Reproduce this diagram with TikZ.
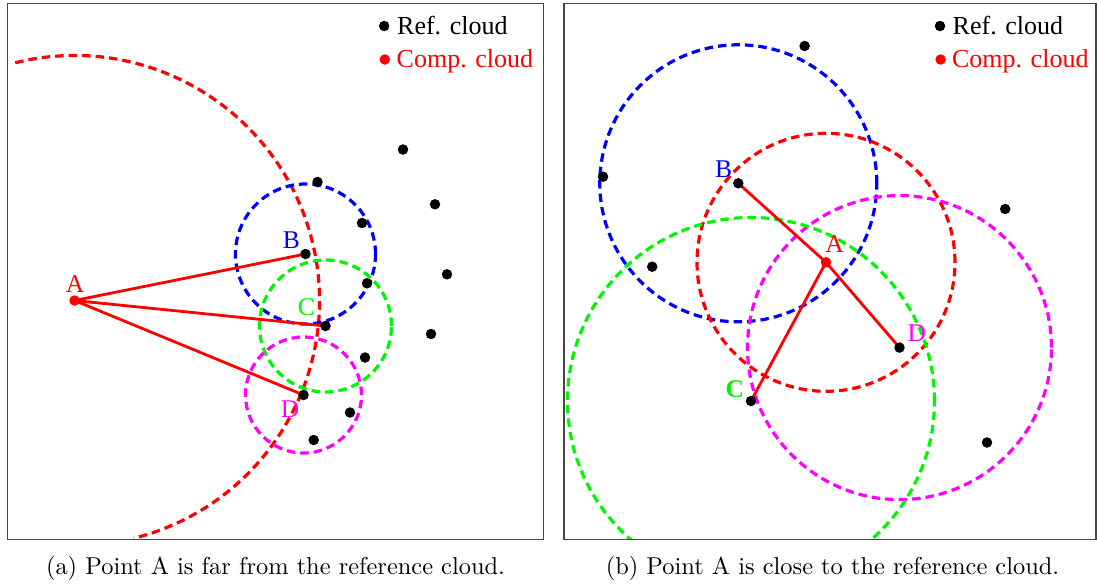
\documentclass[tikz,border=0pt]{standalone}
\usepackage{fontspec}
\newfontfamily\tnrfont{Liberation Serif}
\definecolor{pgreen}{RGB}{0,245,0}
\definecolor{pmag}{RGB}{255,0,255}
\definecolor{framegray}{RGB}{70,70,70}
\tikzset{
  framebox/.style={draw=framegray,line width=1.5pt},
  ring/.style={line width=3.2pt,dash pattern=on 8.5pt off 5pt},
  link/.style={draw=red,line width=2.8pt},
  refdot/.style={circle,fill=black,minimum size=10.5pt,inner sep=0pt},
  compdot/.style={circle,fill=red,minimum size=10.5pt,inner sep=0pt},
  lab/.style={inner sep=0pt,font=\tnrfont\fontsize{25.5}{25}\selectfont},
  legtext/.style={anchor=base west,inner sep=0pt,font=\tnrfont\fontsize{26}{26}\selectfont},
  captext/.style={inner sep=0pt}
}
\begin{document}
\begin{tikzpicture}[x=1pt,y=-1pt]
\useasboundingbox (0,0) rectangle (1097,584);
% ---------------- panel (a) ----------------
\coordinate (aA) at (74.5,300.5);
\coordinate (aB) at (305.5,254);
\coordinate (aC) at (325.5,326);
\coordinate (aD) at (303.5,395);
\begin{scope}
\clip (7.3,3.5) rectangle (543.3,539.5);
\draw[ring,red] (aA) ++(104:245pt) arc[start angle=104,end angle=-76,radius=245pt];
\draw[ring,blue] (aB) circle[radius=70pt];
\draw[ring,pgreen] (aC) circle[radius=66pt];
\draw[ring,pmag] (aD) circle[radius=58pt];
\end{scope}
\draw[link] (aA) -- (aB);
\draw[link] (aA) -- (aC);
\draw[link] (aA) -- (aD);
\node[compdot] (pa) at (aA) {};
\node[refdot] (pb) at (aB) {};
\node[refdot] (pc) at (aC) {};
\node[refdot] (pd) at (aD) {};
\node[refdot] (a1) at (403,149.5) {};
\node[refdot] (a2) at (317.5,182) {};
\node[refdot] (a3) at (435,204.3) {};
\node[refdot] (a4) at (362,223) {};
\node[refdot] (a5) at (447,274.3) {};
\node[refdot] (a6) at (367,283.3) {};
\node[refdot] (a7) at (431,334) {};
\node[refdot] (a8) at (365,357.5) {};
\node[refdot] (a9) at (350,412.5) {};
\node[refdot] (a10) at (313.7,440) {};
\node[lab,red] (la) at (75,284) {A};
\node[lab,blue] (lb) at (291.5,240) {B};
\node[lab,pgreen] (lc) at (306.5,307.5) {C};
\node[lab,pmag] (ld) at (290,409) {D};
\node[refdot] (ga1) at (384.2,26) {};
\node[legtext] (ta1) at (397,34) {Ref. cloud};
\node[compdot] (ga2) at (384.8,59.5) {};
\node[legtext,red] (ta2) at (396.5,67.5) {Comp. cloud};
\draw[framebox] (7.3,3.5) rectangle (543.3,539.5);
\node[captext] (capa) at (275.5,568) {\scalebox{2.44}{(a) Point A is far from the reference cloud.}};
% ---------------- panel (b) ----------------
\coordinate (bA) at (826,262.3);
\coordinate (bB) at (738.3,183.3);
\coordinate (bC) at (751,401);
\coordinate (bD) at (899.5,347.6);
\begin{scope}
\clip (564,3.5) rectangle (1096,539.5);
\draw[ring,blue] (bB) circle[radius=138.5pt];
\draw[ring,red] (bA) circle[radius=129pt];
\draw[ring,pmag] (bD) circle[radius=152pt];
\draw[ring,pgreen] (bC) circle[radius=183.5pt];
\end{scope}
\draw[link] (bA) -- (bB);
\draw[link] (bA) -- (bC);
\draw[link] (bA) -- (bD);
\node[compdot] (qa) at (bA) {};
\node[refdot] (qb) at (bB) {};
\node[refdot] (qc) at (bC) {};
\node[refdot] (qd) at (bD) {};
\node[refdot] (b1) at (804.6,46) {};
\node[refdot] (b2) at (603,176.7) {};
\node[refdot] (b3) at (1005.2,209) {};
\node[refdot] (b4) at (652.2,266.7) {};
\node[refdot] (b5) at (987,442.5) {};
\node[lab,red] (ma) at (834.6,244) {A};
\node[lab,blue] (mb) at (723.5,169) {B};
\node[lab,pgreen] (mc) at (734.8,389) {\bfseries C};
\node[lab,pmag] (md) at (916.8,333) {D};
\node[refdot] (gb1) at (940,26) {};
\node[legtext] (tb1) at (952.5,34) {Ref. cloud};
\node[compdot] (gb2) at (940.6,59.5) {};
\node[legtext,red] (tb2) at (951.8,67.5) {Comp. cloud};
\draw[framebox] (564,3.5) rectangle (1096,539.5);
\node[captext] (capb) at (832.5,568) {\scalebox{2.44}{(b) Point A is close to the reference cloud.}};
\end{tikzpicture}
\end{document}
